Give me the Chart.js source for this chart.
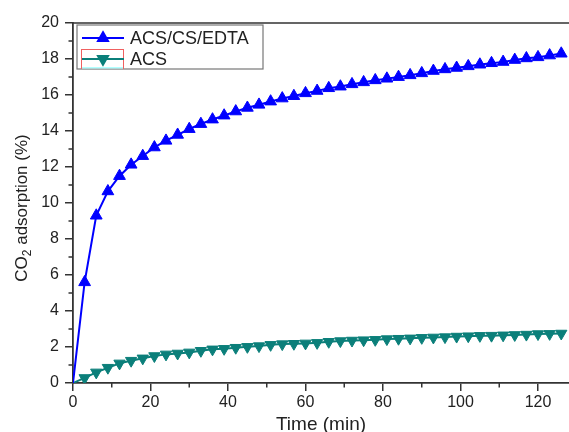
<!DOCTYPE html>
<html>
<head>
<meta charset="utf-8">
<script src="https://cdn.jsdelivr.net/npm/chart.js@4.4.1/dist/chart.umd.min.js"></script>
<style>
html,body{margin:0;padding:0;background:#fff}
canvas{display:block}
</style>
</head>
<body>
<canvas id="chart" width="569" height="432"></canvas>
<script>
// time points (min)
const times=[0,3,6,9,12,15,18,21,24,27,30,33,36,39,42,45,48,51,54,57,60,63,66,69,72,75,78,81,84,87,90,93,96,99,102,105,108,111,114,117,120,123,126];
// CO2 adsorption (%)
const edta=[0,5.6,9.3,10.65,11.5,12.13,12.61,13.09,13.46,13.79,14.11,14.39,14.64,14.86,15.09,15.29,15.46,15.64,15.81,15.94,16.1,16.23,16.38,16.47,16.6,16.71,16.82,16.91,17.0,17.1,17.21,17.34,17.43,17.51,17.6,17.69,17.77,17.84,17.95,18.04,18.1,18.2,18.3];
const acs=[0,0.28,0.59,0.85,1.09,1.24,1.37,1.5,1.59,1.64,1.7,1.79,1.87,1.9,1.96,2.01,2.05,2.12,2.16,2.18,2.2,2.23,2.29,2.33,2.36,2.38,2.4,2.44,2.46,2.48,2.51,2.53,2.55,2.58,2.6,2.62,2.63,2.65,2.67,2.69,2.72,2.73,2.75];
const seriesNames=['ACS/CS/EDTA','ACS'];
const xTicks=[0,20,40,60,80,100,120];
const xMinor=[10,30,50,70,90,110];
const yTicks=[0,2,4,6,8,10,12,14,16,18,20];
const yMinor=[1,3,5,7,9,11,13,15,17,19];

const BLUE='#0000ff', TEAL='#0b7f7a', AX='#333';
const FONT='"Liberation Sans", Arial, sans-serif';

const pts=(ys)=>times.map((t,i)=>({x:t,y:ys[i]}));
const hideFirst=(r)=>(c)=>c.dataIndex===0?0:r;

// minor ticks, top frame, y title and the inset legend
const decor={
  id:'decor',
  afterDraw(chart){
    const {ctx,chartArea:a,scales:{x,y}}=chart;
    ctx.save();
    ctx.strokeStyle=AX; ctx.lineWidth=1.5;
    ctx.beginPath();
    ctx.moveTo(a.left,a.top); ctx.lineTo(a.right,a.top);
    xMinor.forEach(v=>{const px=x.getPixelForValue(v);ctx.moveTo(px,a.bottom);ctx.lineTo(px,a.bottom+4.5);});
    yMinor.forEach(v=>{const py=y.getPixelForValue(v);ctx.moveTo(a.left,py);ctx.lineTo(a.left-4.5,py);});
    ctx.stroke();

    // y title with subscript
    ctx.fillStyle='#222';
    ctx.translate(22,208);
    ctx.rotate(-Math.PI/2);
    ctx.textBaseline='middle';
    const big='17px '+FONT, small='12px '+FONT;
    ctx.font=big; const w1=ctx.measureText('CO').width;
    ctx.font=small; const w2=ctx.measureText('2').width;
    ctx.font=big; const w3=ctx.measureText(' adsorption (%)').width;
    let sx=-(w1+w2+w3)/2;
    ctx.textAlign='left';
    ctx.fillText('CO',sx,0);
    ctx.font=small; ctx.fillText('2',sx+w1,6);
    ctx.font=big; ctx.fillText(' adsorption (%)',sx+w1+w2,0);
    ctx.restore();

    // legend box
    ctx.save();
    ctx.fillStyle='#fff';
    ctx.fillRect(77,25,186,44);
    ctx.strokeStyle='#777'; ctx.lineWidth=1.2;
    ctx.strokeRect(77,25,186,44);
    ctx.strokeStyle='#f06060'; ctx.lineWidth=1;
    ctx.strokeRect(81.5,49.5,42,19);
    ctx.strokeStyle='#9ff'; ctx.lineWidth=1.5;
    ctx.beginPath(); ctx.moveTo(82,68); ctx.lineTo(123,68); ctx.stroke();
    const rows=[{c:BLUE,y:38,rot:0},{c:TEAL,y:59,rot:180}];
    rows.forEach((r,i)=>{
      ctx.strokeStyle=r.c; ctx.fillStyle=r.c; ctx.lineWidth=1.8;
      ctx.beginPath(); ctx.moveTo(82,r.y); ctx.lineTo(124,r.y); ctx.stroke();
      Chart.helpers.drawPoint(ctx,{pointStyle:'triangle',rotation:r.rot,radius:6,borderWidth:1},103,r.y);
      ctx.fillStyle='#222'; ctx.font='18px '+FONT;
      ctx.textAlign='left'; ctx.textBaseline='middle';
      ctx.fillText(seriesNames[i],130,r.y+1);
    });
    ctx.restore();
  }
};

const ctx=document.getElementById('chart').getContext('2d');
new Chart(ctx,{
  type:'scatter',
  data:{datasets:[
    {label:seriesNames[0],data:pts(edta),showLine:true,borderColor:BLUE,backgroundColor:BLUE,borderWidth:2,
     pointStyle:'triangle',pointRadius:hideFirst(6.8),pointBorderWidth:1,pointBackgroundColor:BLUE,pointBorderColor:BLUE},
    {label:seriesNames[1],data:pts(acs),showLine:true,borderColor:TEAL,backgroundColor:TEAL,borderWidth:2,
     pointStyle:'triangle',pointRotation:180,pointRadius:hideFirst(6.5),pointBorderWidth:1,pointBackgroundColor:TEAL,pointBorderColor:TEAL}
  ]},
  options:{
    responsive:false,animation:false,devicePixelRatio:1,
    layout:{autoPadding:false,padding:{top:23,left:0,right:0,bottom:0}},
    plugins:{legend:{display:false},tooltip:{enabled:false}},
    scales:{
      x:{type:'linear',min:0,max:128,
        afterBuildTicks:s=>{s.ticks=xTicks.map(v=>({value:v}));},
        afterFit:s=>{s.height=49;s.paddingLeft=0;s.paddingRight=0;},
        grid:{drawOnChartArea:false,drawTicks:true,tickLength:8,color:AX,lineWidth:1.5},
        border:{display:true,color:AX,width:1.8},
        ticks:{color:'#222',font:{family:FONT,size:16},padding:2,maxRotation:0},
        title:{display:true,text:'Time (min)',color:'#222',font:{family:FONT,size:19,lineHeight:0.8},padding:0}
      },
      y:{type:'linear',min:0,max:20,
        afterBuildTicks:s=>{s.ticks=yTicks.map(v=>({value:v}));},
        afterFit:s=>{s.width=73;s.paddingTop=0;s.paddingBottom=0;},
        grid:{drawOnChartArea:false,drawTicks:true,tickLength:8,color:AX,lineWidth:1.5},
        border:{display:true,color:AX,width:1.8},
        ticks:{color:'#222',font:{family:FONT,size:16},padding:6}
      }
    }
  },
  plugins:[decor]
});
</script>
</body>
</html>
